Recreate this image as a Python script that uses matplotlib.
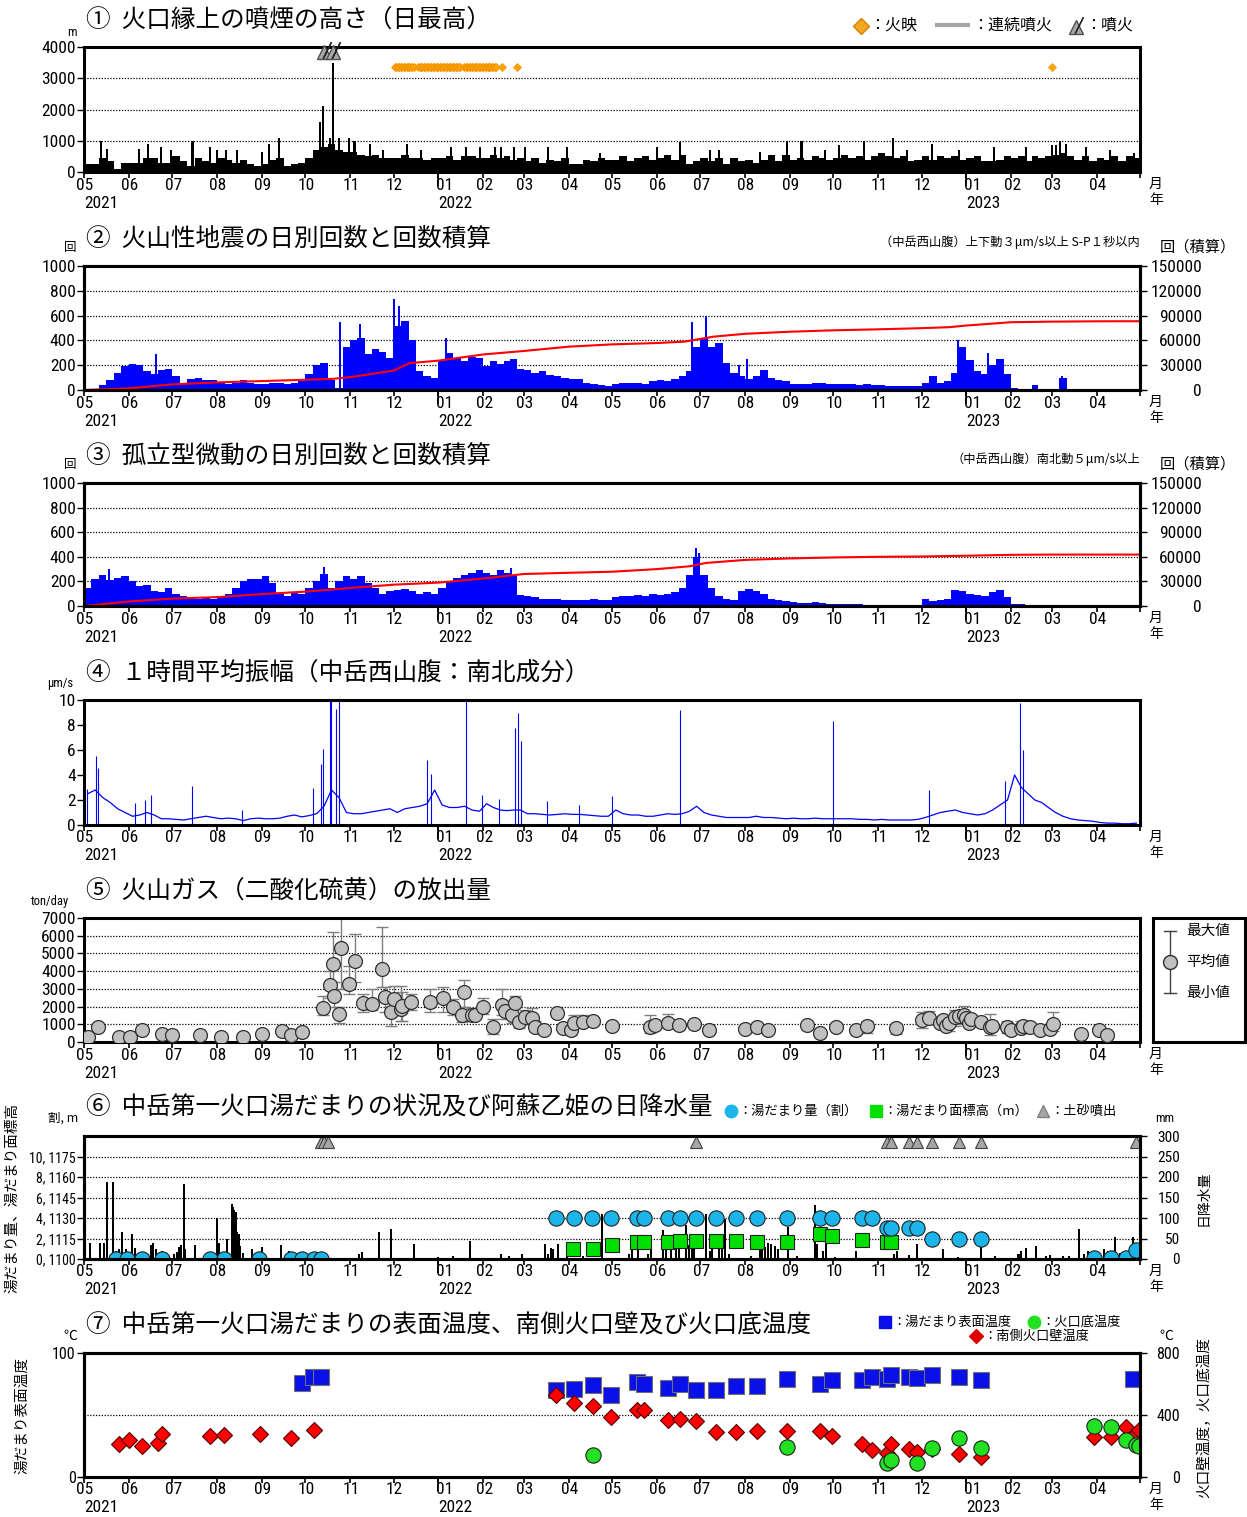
import numpy as np
import pandas as pd
import matplotlib
matplotlib.use("Agg")
import matplotlib.pyplot as plt
import matplotlib.dates as mdates
from matplotlib.lines import Line2D
from matplotlib import font_manager as fm

# narrow digits like the original, if such a face is installed
_have = {f.name for f in fm.fontManager.ttflist}
NUMFONT = next(n for n in ['Liberation Sans Narrow', 'Roboto Condensed', 'Liberation Sans', 'DejaVu Sans']
               if n in _have)
FS = 1.0 if ('Narrow' in NUMFONT or 'Condensed' in NUMFONT) else 0.86
NUM = [NUMFONT, 'Noto Sans CJK JP', 'DejaVu Sans']
JP = ['Noto Sans CJK JP', 'DejaVu Sans']
plt.rcParams['font.family'] = NUM

# ---------------- data ----------------
# six values per month, 2021-05 ... 2023-04 (one row = two months)
smoke_base = [
    250, 250, 450, 350, 100, 300,   300, 300, 450, 450, 300, 300,
    500, 350, 200, 450, 350, 300,   450, 400, 300, 400, 250, 200,
    250, 400, 450, 200, 250, 300,   450, 700, 800, 900, 700, 650,
    650, 550, 500, 550, 450, 450,   450, 550, 450, 450, 400, 450,
    450, 500, 400, 500, 500, 450,   450, 550, 450, 500, 400, 450,
    350, 450, 300, 400, 350, 450,   250, 250, 400, 350, 450, 400,
    400, 500, 350, 450, 500, 400,   450, 550, 400, 550, 250, 350,
    450, 350, 450, 250, 450, 350,   400, 300, 400, 550, 350, 550,
    400, 450, 400, 500, 450, 400,   450, 550, 450, 500, 400, 500,
    600, 500, 450, 500, 350, 400,   500, 400, 500, 450, 500, 400,
    450, 500, 350, 350, 400, 500,   450, 500, 350, 500, 450, 500,
    550, 600, 500, 400, 500, 350,   450, 400, 500, 350, 500, 450,
]
smoke_peak_dates = [
    '2021-05-13', '2021-05-17', '2021-06-08', '2021-06-14', '2021-06-23', '2021-06-30',
    '2021-07-15', '2021-07-27', '2021-08-01', '2021-08-07', '2021-08-15',
    '2021-09-01', '2021-09-06', '2021-09-13',
    '2021-10-11', '2021-10-13', '2021-10-18', '2021-10-20', '2021-10-24', '2021-10-31',
    '2021-11-04', '2021-11-15', '2021-11-24', '2021-12-10', '2021-12-20',
    '2022-01-10', '2022-01-20', '2022-01-30', '2022-02-09', '2022-02-13', '2022-02-22',
    '2022-03-02', '2022-03-18', '2022-03-31', '2022-04-23',
    '2022-06-01', '2022-06-17', '2022-07-08', '2022-07-14',
    '2022-08-11', '2022-08-30', '2022-09-09', '2022-09-25',
    '2022-10-05', '2022-10-22', '2022-11-11', '2022-11-21', '2022-12-08', '2022-12-27',
    '2023-01-20', '2023-02-11', '2023-03-01', '2023-03-04', '2023-03-07', '2023-03-11',
    '2023-03-25', '2023-04-10', '2023-04-27',
]
smoke_peak_vals = [
    1000, 750, 750, 900, 800, 700,
    1000, 800, 700, 700, 700,
    650, 900, 1100,
    1600, 2100, 1100, 3500, 1100, 1100,
    1000, 900, 700, 900, 700,
    800, 800, 800, 800, 800, 800,
    800, 800, 800, 600,
    800, 950, 700, 700,
    650, 1000, 1000, 700,
    850, 1000, 1100, 700, 900, 700,
    800, 800, 850, 850, 1000, 900,
    800, 700, 600,
]
glow_ranges = [('2021-12-02', '2021-12-15'), ('2021-12-18', '2022-01-16'),
               ('2022-01-19', '2022-02-10')]
glow_days = ['2022-02-14', '2022-02-24', '2023-03-01']
erupt_dates = ['2021-10-14', '2021-10-20']

quake_vals = [
    10, 10, 40, 80, 140, 190,       210, 200, 150, 130, 160, 170,
    110, 60, 90, 100, 80, 80,       60, 50, 60, 80, 60, 50,
    50, 55, 60, 50, 60, 70,         130, 200, 220, 80, 15, 350,
    400, 420, 290, 330, 310, 260,   520, 560, 400, 150, 110, 100,
    230, 300, 260, 230, 270, 260,   190, 230, 210, 230, 250, 170,
    160, 140, 150, 120, 110, 95,    90, 85, 60, 50, 40, 35,
    45, 60, 55, 60, 50, 70,         80, 75, 90, 110, 150, 350,
    420, 350, 380, 220, 140, 110,   90, 110, 160, 100, 80, 70,
    50, 45, 50, 60, 55, 45,         50, 45, 45, 40, 45, 40,
    40, 30, 35, 30, 35, 30,         60, 110, 60, 70, 140, 350,
    240, 150, 130, 200, 250, 130,   20, 10, 8, 40, 10, 5,
    8, 100, 5, 4, 4, 3,             3, 3, 2, 2, 2, 2,
]
quake_peak_dates = ['2021-06-20', '2021-10-25', '2021-11-08', '2021-12-01', '2021-12-05',
                    '2022-01-06', '2022-06-25', '2022-07-05', '2022-07-28', '2022-08-02',
                    '2022-12-26', '2023-01-16', '2023-03-08']
quake_peak_vals = [290, 550, 530, 730, 680, 420, 550, 600, 200, 250, 400, 300, 110]
# red cumulative curve, read at its bends
quake_cum_dates = ['2021-05-01', '2021-06-01', '2021-07-01', '2021-08-01', '2021-09-01',
                   '2021-10-01', '2021-10-20', '2021-11-01', '2021-12-01', '2021-12-12',
                   '2022-01-01', '2022-02-01', '2022-03-01', '2022-04-01', '2022-05-01',
                   '2022-06-01', '2022-06-20', '2022-07-10', '2022-08-01', '2022-09-01',
                   '2022-10-01', '2022-11-01', '2022-12-01', '2022-12-20', '2023-01-01',
                   '2023-02-01', '2023-03-01', '2023-04-01', '2023-05-01']
quake_cum = [0, 2000, 6800, 9200, 10800,
             12400, 13500, 15500, 23500, 32500,
             35500, 43000, 47200, 52400, 55200,
             56800, 58500, 64500, 68000, 70500,
             72200, 73400, 74800, 76000, 78000,
             82000, 82700, 83100, 83200]

tremor_vals = [
    150, 220, 250, 210, 230, 240,   200, 160, 170, 120, 110, 150,
    100, 80, 70, 60, 75, 60,        80, 100, 150, 200, 220, 220,
    240, 190, 100, 80, 110, 100,    150, 200, 260, 150, 200, 240,
    220, 240, 190, 150, 100, 120,   130, 140, 120, 100, 110, 100,
    150, 200, 230, 250, 270, 290,   270, 250, 290, 270, 240, 90,
    80, 70, 60, 55, 60, 50,         45, 50, 45, 55, 50, 45,
    75, 85, 80, 90, 80, 95,         90, 100, 110, 150, 250, 400,
    250, 150, 80, 60, 50, 120,      140, 120, 100, 60, 50, 40,
    30, 25, 25, 30, 25, 20,         20, 15, 15, 15, 12, 10,
    10, 10, 10, 8, 8, 8,            60, 40, 50, 60, 130, 120,
    100, 90, 80, 110, 130, 70,      20, 15, 10, 10, 10, 5,
    2, 1, 1, 0, 0, 0,               0, 0, 0, 0, 0, 0,
]
tremor_peak_dates = ['2021-05-18', '2021-10-14', '2022-02-20', '2022-06-28', '2022-06-30']
tremor_peak_vals = [300, 320, 310, 470, 430]
tremor_cum_dates = ['2021-05-01', '2021-06-01', '2021-07-01', '2021-08-01', '2021-09-01',
                    '2021-10-01', '2021-11-01', '2021-12-01', '2022-01-01', '2022-02-01',
                    '2022-03-01', '2022-04-01', '2022-05-01', '2022-06-01', '2022-06-24',
                    '2022-07-05', '2022-08-01', '2022-09-01', '2022-10-01', '2022-11-01',
                    '2022-12-01', '2023-01-01', '2023-02-01', '2023-03-01', '2023-05-01']
tremor_cum = [0, 5500, 9000, 10800, 14500,
              17500, 22000, 26000, 28500, 33500,
              39000, 40500, 41800, 45000, 48500,
              52500, 56200, 58000, 59200, 60000,
              60400, 61300, 62400, 62700, 62700]

amp_base = [
    2.5, 2.8, 2.2, 1.8, 1.3, 1.0,   0.7, 0.8, 1.0, 0.8, 0.5, 0.5,
    0.45, 0.4, 0.5, 0.6, 0.7, 0.6,  0.5, 0.55, 0.5, 0.35, 0.5, 0.55,
    0.5, 0.5, 0.55, 0.7, 0.8, 0.65, 0.75, 0.9, 1.5, 2.8, 2.2, 1.0,
    0.9, 0.9, 1.0, 1.1, 1.2, 1.3,   1.0, 1.3, 1.4, 1.5, 1.7, 2.8,
    1.6, 1.4, 1.4, 1.5, 1.2, 1.1,   1.7, 1.4, 1.2, 1.15, 1.2, 1.2,
    0.9, 0.9, 0.85, 0.8, 0.85, 0.9, 0.85, 0.85, 0.8, 0.75, 0.7, 0.7,
    1.2, 0.9, 0.8, 0.8, 0.7, 0.7,   0.8, 0.9, 0.85, 0.9, 1.1, 1.5,
    1.0, 0.8, 0.7, 0.6, 0.6, 0.6,   0.6, 0.7, 0.6, 0.6, 0.55, 0.5,
    0.55, 0.5, 0.5, 0.55, 0.5, 0.5, 0.5, 0.5, 0.5, 0.45, 0.45, 0.4,
    0.45, 0.4, 0.4, 0.4, 0.4, 0.45, 0.6, 0.8, 1.0, 1.1, 1.2, 1.0,
    0.9, 0.8, 0.9, 1.2, 1.6, 2.0,   4.0, 3.0, 2.5, 2.0, 1.8, 1.4,
    1.0, 0.7, 0.5, 0.4, 0.35, 0.3,  0.2, 0.15, 0.15, 0.1, 0.1, 0.15,
]
amp_spike_dates = ['2021-05-01', '2021-05-03', '2021-05-09', '2021-05-11', '2021-06-05',
                   '2021-06-12', '2021-06-16', '2021-07-15', '2021-08-18', '2021-10-06',
                   '2021-10-12', '2021-10-13', '2021-10-18', '2021-10-19', '2021-10-22',
                   '2021-10-24', '2021-12-24', '2021-12-27', '2022-01-20', '2022-01-31',
                   '2022-02-12', '2022-02-23', '2022-02-25', '2022-02-27', '2022-03-17',
                   '2022-04-08', '2022-05-01', '2022-06-17', '2022-10-01', '2022-12-06',
                   '2023-01-28', '2023-02-07', '2023-02-09']
amp_spike_vals = [5.8, 2.9, 5.5, 4.6, 1.8, 2.0, 2.4, 3.1, 1.2, 3.0,
                  4.9, 6.1, 9.9, 10, 9.3, 10, 5.2, 4.1, 10, 2.4,
                  2.1, 7.8, 9.0, 6.7, 1.9, 1.6, 2.3, 9.2, 8.3, 2.8,
                  3.5, 9.8, 6.0]

so2_dates = [
    '2021-05-04', '2021-05-11', '2021-05-25', '2021-06-02', '2021-06-10', '2021-06-24', '2021-07-01',
    '2021-07-20', '2021-08-04', '2021-08-19', '2021-09-01', '2021-09-15', '2021-09-21', '2021-09-29',
    '2021-10-13', '2021-10-18', '2021-10-20', '2021-10-21', '2021-10-24', '2021-10-26', '2021-10-31',
    '2021-11-04', '2021-11-10', '2021-11-16', '2021-11-23', '2021-11-25', '2021-11-29', '2021-12-01',
    '2021-12-06', '2021-12-07', '2021-12-13', '2021-12-26',
    '2022-01-04', '2022-01-11', '2022-01-17', '2022-01-19', '2022-01-24', '2022-01-26', '2022-02-01',
    '2022-02-08', '2022-02-14', '2022-02-16', '2022-02-21', '2022-02-23', '2022-02-26', '2022-03-02',
    '2022-03-07', '2022-03-09', '2022-03-15', '2022-03-24', '2022-03-28', '2022-04-03', '2022-04-05',
    '2022-04-11', '2022-04-18', '2022-05-01',
    '2022-05-27', '2022-05-31', '2022-06-09', '2022-06-16', '2022-06-27', '2022-07-07', '2022-08-01',
    '2022-08-09', '2022-08-17', '2022-09-13', '2022-09-22', '2022-10-03', '2022-10-17', '2022-10-24',
    '2022-11-13',
    '2022-12-01', '2022-12-06', '2022-12-14', '2022-12-16', '2022-12-18', '2022-12-20', '2022-12-24',
    '2022-12-27', '2022-12-30',
    '2023-01-01', '2023-01-03', '2023-01-04', '2023-01-11', '2023-01-17', '2023-01-19', '2023-01-29',
    '2023-02-01', '2023-02-08', '2023-02-09', '2023-02-14', '2023-02-21', '2023-02-28', '2023-03-02',
    '2023-03-21', '2023-04-03', '2023-04-08',
]
so2_mean = [
    300, 850, 280, 280, 650, 450, 400,
    400, 280, 280, 450, 620, 400, 560,
    1900, 3200, 4400, 2600, 1600, 5300, 3300,
    4600, 2200, 2150, 4100, 2550, 1700, 2400,
    1850, 2050, 2250, 2250,
    2500, 1950, 1550, 2800, 1500, 1500, 2000,
    850, 2100, 1750, 1500, 2200, 1150, 1400,
    1350, 850, 700, 1650, 800, 700, 1100,
    1150, 1200, 900,
    850, 950, 1050, 950, 1000, 650, 750,
    850, 650, 950, 500, 850, 700, 900,
    800,
    1250, 1350, 1100, 1250, 900, 1050, 1400,
    1450, 1550,
    1350, 1050, 1300, 1150, 850, 900, 850,
    650, 800, 900, 850, 700, 750, 1000,
    450, 700, 400,
]
so2_bar_dates = [
    '2021-10-13', '2021-10-18', '2021-10-20', '2021-10-21', '2021-10-24', '2021-10-26', '2021-10-31',
    '2021-11-04', '2021-11-10', '2021-11-16', '2021-11-23', '2021-11-25', '2021-11-29', '2021-12-01',
    '2021-12-06', '2021-12-07', '2021-12-13', '2021-12-26', '2022-01-04', '2022-01-11', '2022-01-17',
    '2022-01-19', '2022-01-24', '2022-02-01', '2022-02-08', '2022-02-14', '2022-02-16', '2022-02-21',
    '2022-02-23', '2022-02-26', '2022-03-02', '2022-03-07', '2022-03-09', '2022-04-03', '2022-04-05',
    '2022-04-11', '2022-05-27', '2022-06-09', '2022-10-24', '2022-11-13', '2022-12-01', '2022-12-06',
    '2022-12-20', '2022-12-24', '2022-12-27', '2022-12-30', '2023-01-04', '2023-01-17', '2023-01-29',
    '2023-02-08', '2023-02-09', '2023-03-02',
]
so2_bar_min = [1500, 2500, 3000, 2000, 1050, 3000, 2700,
               3400, 1700, 1800, 3100, 1700, 900, 1500,
               1200, 1200, 1800, 1700, 1700, 1500, 1150,
               2000, 1200, 1600, 450, 1500, 1300, 1100,
               1600, 800, 1000, 1000, 600, 400, 800,
               900, 500, 800, 500, 450, 800, 1000,
               600, 900, 1000, 1100, 900, 400, 500,
               500, 600, 600]
so2_bar_max = [2600, 4000, 6200, 3400, 2000, 7000, 4300,
               6100, 2700, 3000, 6500, 3100, 2300, 3150,
               3150, 2800, 2700, 3000, 3100, 2400, 2000,
               3500, 1900, 2500, 1300, 3000, 2100, 1800,
               2600, 1500, 1800, 1900, 1200, 1000, 1500,
               1500, 1500, 1600, 1200, 800, 1700, 1750,
               1400, 1800, 1800, 2050, 1500, 1600, 1200,
               1200, 1200, 1700]

rain_dates = [
    '2021-05-05', '2021-05-12', '2021-05-15', '2021-05-17', '2021-05-21', '2021-05-23', '2021-05-25',
    '2021-05-27', '2021-05-30', '2021-06-03', '2021-06-05', '2021-06-16', '2021-06-18', '2021-06-20',
    '2021-06-24', '2021-07-02', '2021-07-04', '2021-07-06', '2021-07-07', '2021-07-09', '2021-07-10',
    '2021-07-17', '2021-08-01', '2021-08-02', '2021-08-08', '2021-08-11', '2021-08-12', '2021-08-13',
    '2021-08-14', '2021-08-15', '2021-08-16', '2021-08-17', '2021-08-19', '2021-08-25', '2021-09-01',
    '2021-09-14', '2021-09-20', '2021-10-04', '2021-11-07', '2021-11-09', '2021-11-21', '2021-11-29',
    '2021-12-15', '2022-01-01', '2022-01-11', '2022-01-23', '2022-02-13', '2022-02-19', '2022-02-28',
    '2022-03-16', '2022-03-18', '2022-03-20', '2022-03-21', '2022-03-25', '2022-03-31', '2022-04-11',
    '2022-04-24',
    '2022-05-13', '2022-05-15', '2022-05-19', '2022-05-26', '2022-05-28', '2022-06-05', '2022-06-07',
    '2022-06-11', '2022-06-14', '2022-06-16', '2022-06-21', '2022-06-23', '2022-06-25', '2022-06-27',
    '2022-07-05', '2022-07-08', '2022-07-09', '2022-07-14', '2022-07-16', '2022-07-18', '2022-07-21',
    '2022-08-05', '2022-08-11', '2022-08-13', '2022-08-15', '2022-08-17', '2022-08-19', '2022-08-22',
    '2022-08-24', '2022-08-31', '2022-09-06', '2022-09-18', '2022-09-20', '2022-09-24', '2022-09-26',
    '2022-10-02', '2022-10-17', '2022-11-12', '2022-11-14', '2022-11-22', '2022-11-28', '2022-12-16',
    '2022-12-26', '2023-01-11', '2023-01-21', '2023-02-06', '2023-02-08', '2023-02-11', '2023-02-18',
    '2023-02-25', '2023-02-28', '2023-03-09', '2023-03-13', '2023-03-20', '2023-03-23', '2023-03-26',
    '2023-03-28', '2023-04-04', '2023-04-06', '2023-04-09', '2023-04-14', '2023-04-17', '2023-04-26',
]
rain_mm = [
    40, 40, 40, 188, 188, 20, 25,
    65, 25, 60, 28, 35, 40, 25,
    20, 12, 16, 30, 35, 182, 25,
    35, 100, 40, 50, 133, 128, 120,
    115, 65, 60, 32, 15, 25, 30,
    35, 20, 12, 12, 16, 65, 72,
    36, 4, 8, 45, 12, 8, 12,
    36, 12, 28, 25, 36, 12, 8,
    110,
    12, 30, 50, 12, 50, 70, 25,
    45, 50, 40, 82, 35, 50, 30,
    110, 20, 25, 36, 45, 98, 12,
    8, 30, 22, 30, 40, 36, 32,
    25, 78, 8, 131, 36, 20, 45,
    4, 20, 12, 20, 10, 36, 25,
    6, 50, 8, 12, 20, 28, 32,
    8, 10, 8, 8, 74, 12, 20,
    12, 8, 25, 20, 53, 15, 53,
]
pool_dates = [
    '2021-05-23', '2021-05-31', '2021-06-10', '2021-06-24', '2021-07-27', '2021-08-06',
    '2021-08-30', '2021-09-21', '2021-09-29', '2021-10-07', '2021-10-12',
    '2022-03-23', '2022-04-05', '2022-04-17', '2022-04-30', '2022-05-18', '2022-05-23',
    '2022-06-09', '2022-06-17', '2022-06-28', '2022-07-12', '2022-07-26', '2022-08-09',
    '2022-08-30', '2022-09-22', '2022-09-30', '2022-10-21', '2022-10-28',
    '2022-11-07', '2022-11-10', '2022-11-22', '2022-11-28',
    '2022-12-08', '2022-12-27', '2023-01-11',
    '2023-03-30', '2023-04-11', '2023-04-21', '2023-04-28',
]
pool_amount = [0, 0, 0, 0, 0, 0,
               0, 0, 0, 0, 0,
               4, 4, 4, 4, 4, 4,
               4, 4, 4, 4, 4, 4,
               4, 4, 4, 4, 4,
               3, 3, 3, 3,
               2, 2, 2,
               0.1, 0.1, 0.1, 0.9]
level_dates = ['2022-04-04', '2022-04-18', '2022-05-01', '2022-05-18', '2022-05-23', '2022-06-09',
               '2022-06-17', '2022-06-28', '2022-07-12', '2022-07-26', '2022-08-09', '2022-08-30',
               '2022-09-22', '2022-09-30', '2022-10-21', '2022-11-07', '2022-11-10']
level_m = [1107, 1107, 1110, 1112.5, 1112.5, 1112.5,
           1113, 1113, 1113, 1113, 1112.5, 1112.5,
           1118, 1117, 1114, 1112.5, 1112.5]
sediment_dates = ['2021-10-12', '2021-10-14', '2021-10-17', '2022-06-28', '2022-11-07', '2022-11-10',
                  '2022-11-22', '2022-11-28', '2022-12-08', '2022-12-27', '2023-01-11', '2023-04-28']

surf_dates = ['2021-09-29', '2021-10-06', '2021-10-12', '2022-03-23', '2022-04-05', '2022-04-18',
              '2022-04-30', '2022-05-18', '2022-05-23', '2022-06-09', '2022-06-17', '2022-06-28',
              '2022-07-12', '2022-07-26', '2022-08-09', '2022-08-30', '2022-09-22', '2022-09-30',
              '2022-10-21', '2022-10-28', '2022-11-07', '2022-11-10', '2022-11-22', '2022-11-28',
              '2022-12-08', '2022-12-27', '2023-01-11', '2023-04-26']
surf_temp = [76, 81, 81, 70, 71, 74,
             66, 77, 75, 72, 75, 70,
             70, 73, 73, 79, 75, 78,
             78, 81, 79, 82, 81, 80,
             82, 81, 78, 79]
wall_dates = ['2021-05-25', '2021-06-01', '2021-06-10', '2021-06-21', '2021-06-24', '2021-07-27',
              '2021-08-06', '2021-08-31', '2021-09-21', '2021-10-07', '2022-03-23', '2022-04-05',
              '2022-04-18', '2022-04-30', '2022-05-18', '2022-05-23', '2022-06-09', '2022-06-17',
              '2022-06-28', '2022-07-12', '2022-07-26', '2022-08-09', '2022-08-30', '2022-09-22',
              '2022-09-30', '2022-10-21', '2022-10-28', '2022-11-07', '2022-11-10', '2022-11-22',
              '2022-11-28', '2022-12-08', '2022-12-27', '2023-01-11', '2023-03-30', '2023-04-11',
              '2023-04-21', '2023-04-28', '2023-04-30']
wall_temp = [210, 240, 200, 220, 275, 262,
             273, 275, 252, 305, 530, 476,
             460, 390, 430, 430, 365, 377,
             363, 290, 290, 295, 300, 297,
             265, 215, 176, 157, 211, 183,
             161, 178, 150, 129, 258, 258,
             323, 280, 305]
floor_dates = ['2022-04-18', '2022-08-30', '2022-11-07', '2022-11-10', '2022-11-28', '2022-12-08',
               '2022-12-27', '2023-01-11', '2023-03-30', '2023-04-11', '2023-04-21', '2023-04-28',
               '2023-04-30']
floor_temp = [145, 194, 90, 112, 90, 190, 254, 190, 327, 323, 241, 204, 200]

# ---------------- layout helpers ----------------
W, H = 1247, 1517
L, R = 84, 1140
fig = plt.figure(figsize=(W / 100, H / 100), dpi=100)
months = pd.date_range('2021-05-01', '2023-05-01', freq='MS')
X0 = mdates.date2num(months[0])
X1 = mdates.date2num(months[-1])


def dn(d):
    return mdates.date2num(pd.to_datetime(d))


def xpx(d):
    return L + (dn(d) - X0) / (X1 - X0) * (R - L)


def ftext(x, y, s, **kw):
    kw.setdefault('va', 'center')
    fig.text(x / W, 1 - y / H, s, **kw)


def fmark(x, y, **kw):
    fig.add_artist(Line2D([x / W], [1 - y / H], transform=fig.transFigure, ls='none', **kw))


def month_slots(n=6):
    xs, ws = [], []
    for a, b in zip(months[:-1], months[1:]):
        d = (b - a).days / n
        for k in range(n):
            xs.append(dn(a) + d * k)
            ws.append(d)
    return np.array(xs), np.array(ws)


SX, SW = month_slots()


def panel(top, bot, ylim, yticks, grid=(), ylabels=None, tfs=12.5):
    ax = fig.add_axes([L / W, 1 - bot / H, (R - L) / W, (bot - top) / H])
    ax.set_xlim(X0, X1)
    ax.set_ylim(*ylim)
    for s in ax.spines.values():
        s.set_linewidth(2.2)
    ax.set_yticks(yticks)
    if ylabels:
        ax.set_yticklabels(ylabels)
    ax.tick_params(axis='y', length=5, width=1, labelsize=tfs * FS, pad=1)
    for g in grid:
        ax.axhline(g, color='k', lw=0.9, ls=(0, (1, 1.3)), zorder=0.8)
    ax.set_xticks(dn(months))
    ax.set_xticklabels([])
    ax.set_xticks(dn(['2022-01-01', '2023-01-01']), minor=True)
    ax.xaxis.remove_overlapping_locs = False
    ax.tick_params(axis='x', which='major', length=4, width=1.2)
    ax.tick_params(axis='x', which='minor', length=10, width=1.2)
    for m in months[:-1]:
        dx = 6 if m.month == 1 else 1
        ftext(xpx(m) + dx, bot + 13, m.strftime('%m'), ha='center', fontsize=12.5 * FS)
    for y in ['2021-05-01', '2022-01-01', '2023-01-01']:
        ftext(xpx(y), bot + 31, y[:4], ha='left', fontsize=12.5 * FS)
    ftext(1156, bot + 12, '月', ha='center', fontsize=10, family=JP)
    ftext(1156, bot + 28, '年', ha='center', fontsize=10, family=JP)
    return ax


def twin(ax, ylim, yticks, right_px, tfs=12.5):
    r = ax.twinx()
    r.set_ylim(*ylim)
    r.set_yticks(yticks)
    r.tick_params(axis='y', length=5, width=1, labelsize=tfs * FS,
                  pad=(right_px - R - 7) / 1.389)
    for t in r.get_yticklabels():
        t.set_horizontalalignment('right')
    for s in r.spines.values():
        s.set_linewidth(2.2)
    return r


def title(y, s):
    ftext(86, y, s, ha='left', fontsize=17.7, family=JP)


# ---------------- ① smoke height ----------------
ax1 = panel(47, 172, (0, 4000), range(0, 4001, 1000), grid=(1000, 2000, 3000))
ax1.bar(SX, smoke_base, width=SW, align='edge', color='k', lw=0)
ax1.bar(dn(smoke_peak_dates), smoke_peak_vals, width=1.4, color='k', lw=0)
glow = [d for a, b in glow_ranges for d in pd.date_range(a, b)] + list(pd.to_datetime(glow_days))
ax1.plot(dn(glow), np.full(len(glow), 3350), 'D', ms=4.5, mfc='#FFA500', mec='#F39200', mew=0.5)
ax1.plot(dn(erupt_dates), [3840, 3840], '^', ms=10, mfc='#A9A9A9', mec='#505050', mew=1,
         clip_on=False, zorder=5)
ax1.plot(dn(erupt_dates) + 1.5, [3900, 3900], ls='none', marker=[(-0.4, -1), (0.6, 1)], ms=12,
         mec='#202020', mew=1.3, clip_on=False, zorder=6)
title(20, '①  火口縁上の噴煙の高さ（日最高）')
ftext(72, 32, 'm', ha='center', fontsize=9)
fmark(861, 26, marker='D', ms=8, mfc='#F5A623', mec='#D08000')
ftext(869, 25, '：火映', ha='left', fontsize=11.5, family=JP)
fig.add_artist(Line2D([937 / W, 968 / W], [1 - 25 / H] * 2, transform=fig.transFigure,
                      color='#A6A6A6', lw=3))
ftext(972, 25, '：連続噴火', ha='left', fontsize=11.5, family=JP)
fmark(1076, 27, marker='^', ms=10, mfc='#A9A9A9', mec='#505050')
fmark(1078, 25, marker=[(-0.4, -1), (0.6, 1)], ms=12, mec='#202020', mew=1.2)
ftext(1085, 25, '：噴火', ha='left', fontsize=11.5, family=JP)

# ---------------- ② volcanic earthquakes ----------------
ax2 = panel(266, 390, (0, 1000), range(0, 1001, 200), grid=(200, 400, 600, 800))
ax2.bar(SX, quake_vals, width=SW, align='edge', color='#0000FF', lw=0)
ax2.bar(dn(quake_peak_dates), quake_peak_vals, width=1.4, color='#0000FF', lw=0)
r2 = twin(ax2, (0, 150000), range(0, 150001, 30000), 1202)
r2.plot(dn(quake_cum_dates), quake_cum, color='#FF0000', lw=1.5)
title(239, '②  火山性地震の日別回数と回数積算')
ftext(70, 248, '回', ha='center', fontsize=9, family=JP)
ftext(1140, 242, '（中岳西山腹）上下動３μm/s以上 S-P１秒以内', ha='right', fontsize=8.8, family=JP)
ftext(1160, 247, '回（積算）', ha='left', fontsize=11, family=JP)

# ---------------- ③ isolated tremors ----------------
ax3 = panel(483, 606, (0, 1000), range(0, 1001, 200), grid=(200, 400, 600, 800))
ax3.bar(SX, tremor_vals, width=SW, align='edge', color='#0000FF', lw=0)
ax3.bar(dn(tremor_peak_dates), tremor_peak_vals, width=1.4, color='#0000FF', lw=0)
r3 = twin(ax3, (0, 150000), range(0, 150001, 30000), 1202)
r3.plot(dn(tremor_cum_dates), tremor_cum, color='#FF0000', lw=1.5)
title(456, '③  孤立型微動の日別回数と回数積算')
ftext(70, 465, '回', ha='center', fontsize=9, family=JP)
ftext(1140, 459, '（中岳西山腹）南北動５μm/s以上', ha='right', fontsize=8.8, family=JP)
ftext(1160, 464, '回（積算）', ha='left', fontsize=11, family=JP)

# ---------------- ④ amplitude ----------------
ax4 = panel(700, 825, (0, 10), range(0, 11, 2))
ax4.plot(SX + SW / 2, amp_base, color='#0000FF', lw=0.9)
ax4.vlines(dn(amp_spike_dates), 0, amp_spike_vals, color='#0000FF', lw=0.8)
title(673, '④  １時間平均振幅（中岳西山腹：南北成分）')
ftext(60, 684, 'μm/s', ha='center', fontsize=9)

# ---------------- ⑤ SO2 ----------------
ax5 = panel(918, 1042, (0, 7000), range(0, 7001, 1000), grid=range(1000, 7000, 1000))
xb = dn(so2_bar_dates)
ax5.vlines(xb, so2_bar_min, so2_bar_max, color='#7F7F7F', lw=1, zorder=2)
ax5.plot(xb, so2_bar_min, ls='none', marker='_', ms=9, mew=1, color='#7F7F7F', zorder=2)
ax5.plot(xb, so2_bar_max, ls='none', marker='_', ms=9, mew=1, color='#7F7F7F', zorder=2)
ax5.plot(dn(so2_dates), so2_mean, 'o', ms=10, mfc='#C0C0C0', mec='#303030', mew=0.9, zorder=3)
title(891, '⑤  火山ガス（二酸化硫黄）の放出量')
ftext(50, 901, 'ton/day', ha='center', fontsize=9)
lg = fig.add_axes([1153 / W, 1 - 1042 / H, 92 / W, 124 / H])
lg.set_xlim(0, 92)
lg.set_ylim(124, 0)
lg.set_xticks([])
lg.set_yticks([])
for s in lg.spines.values():
    s.set_linewidth(2.2)
lg.plot([17, 17], [13, 75], color='#404040', lw=1)
lg.plot([11, 23], [13, 13], color='#404040', lw=1)
lg.plot([11, 23], [75, 75], color='#404040', lw=1)
lg.plot([17], [44], 'o', ms=10, mfc='#C0C0C0', mec='#303030')
for yy, s in [(13, '最大値'), (44, '平均値'), (75, '最小値')]:
    lg.text(33, yy, s, va='center', ha='left', fontsize=10.5, family=JP)

# ---------------- ⑥ crater lake & rain ----------------
ax6 = panel(1136, 1259, (0, 12), range(0, 11, 2), grid=(2, 4, 6, 8, 10),
            ylabels=['0, 1100', '2, 1115', '4, 1130', '6, 1145', '8, 1160', '10, 1175'], tfs=10)
r6 = twin(ax6, (0, 300), range(0, 301, 50), 1180, tfs=11)
r6.bar(dn(rain_dates), rain_mm, width=1.4, color='k', lw=0)
ax6.set_zorder(r6.get_zorder() + 1)
ax6.patch.set_visible(False)
ax6.plot(dn(level_dates), (np.array(level_m) - 1100) / 7.5, 's', ms=10, mfc='#00E000',
         mec='#202020', mew=0.8)
ax6.plot(dn(pool_dates), pool_amount, 'o', ms=11, mfc='#1CB5EA', mec='#202020', mew=0.8)
ax6.plot(dn(sediment_dates), np.full(len(sediment_dates), 11.45), '^', ms=9, mfc='#A6A6A6',
         mec='#404040', mew=0.8)
title(1108, '⑥  中岳第一火口湯だまりの状況及び阿蘇乙姫の日降水量')
ftext(63, 1118, '割, m', ha='center', fontsize=9, family=JP)
ftext(1165, 1118, 'mm', ha='center', fontsize=9)
ftext(12, 1198, '湯だまり量、湯だまり面標高', ha='center', rotation=90, fontsize=10.5, family=JP)
ftext(1204, 1198, '日降水量', ha='center', rotation=90, fontsize=10, family=JP)
fmark(731, 1111, marker='o', ms=9, mfc='#1CB5EA', mec='#1CB5EA')
ftext(738, 1111, '：湯だまり量（割）', ha='left', fontsize=9.5, family=JP)
fmark(876, 1111, marker='s', ms=8, mfc='#00E000', mec='#00E000')
ftext(883, 1111, '：湯だまり面標高（m）', ha='left', fontsize=9.5, family=JP)
fmark(1043, 1111, marker='^', ms=8, mfc='#A6A6A6', mec='#808080')
ftext(1050, 1111, '：土砂噴出', ha='left', fontsize=9.5, family=JP)

# ---------------- ⑦ temperatures ----------------
ax7 = panel(1353, 1477, (0, 100), [0, 100], grid=(50,), tfs=11.5)
r7 = twin(ax7, (0, 800), [0, 400, 800], 1180, tfs=11.5)
ax7.plot(dn(surf_dates), surf_temp, 's', ms=11, mfc='#0A10E8', mec='#707070', mew=0.8)
r7.plot(dn(wall_dates), wall_temp, 'D', ms=8.5, mfc='#FF0000', mec='#500000', mew=0.8)
r7.plot(dn(floor_dates), floor_temp, 'o', ms=11, mfc='#22E022', mec='#202020', mew=0.8)
title(1326, '⑦  中岳第一火口湯だまりの表面温度、南側火口壁及び火口底温度')
ftext(70, 1336, '℃', ha='center', fontsize=10, family=JP)
ftext(1166, 1336, '℃', ha='center', fontsize=10, family=JP)
ftext(22, 1415, '湯だまり表面温度', ha='center', rotation=90, fontsize=10.5, family=JP)
ftext(1204, 1418, '火口壁温度，火口底温度', ha='center', rotation=90, fontsize=10.5, family=JP)
fmark(885, 1322, marker='s', ms=8, mfc='#0A10E8', mec='#0A10E8')
ftext(892, 1322, '：湯だまり表面温度', ha='left', fontsize=9.5, family=JP)
fmark(1034, 1322, marker='o', ms=9, mfc='#22E022', mec='#22E022')
ftext(1041, 1322, '：火口底温度', ha='left', fontsize=9.5, family=JP)
fmark(976, 1336, marker='D', ms=7, mfc='#E00000', mec='#E00000')
ftext(983, 1336, '：南側火口壁温度', ha='left', fontsize=9.5, family=JP)

fig.savefig('out.png', dpi=100, facecolor='white')
